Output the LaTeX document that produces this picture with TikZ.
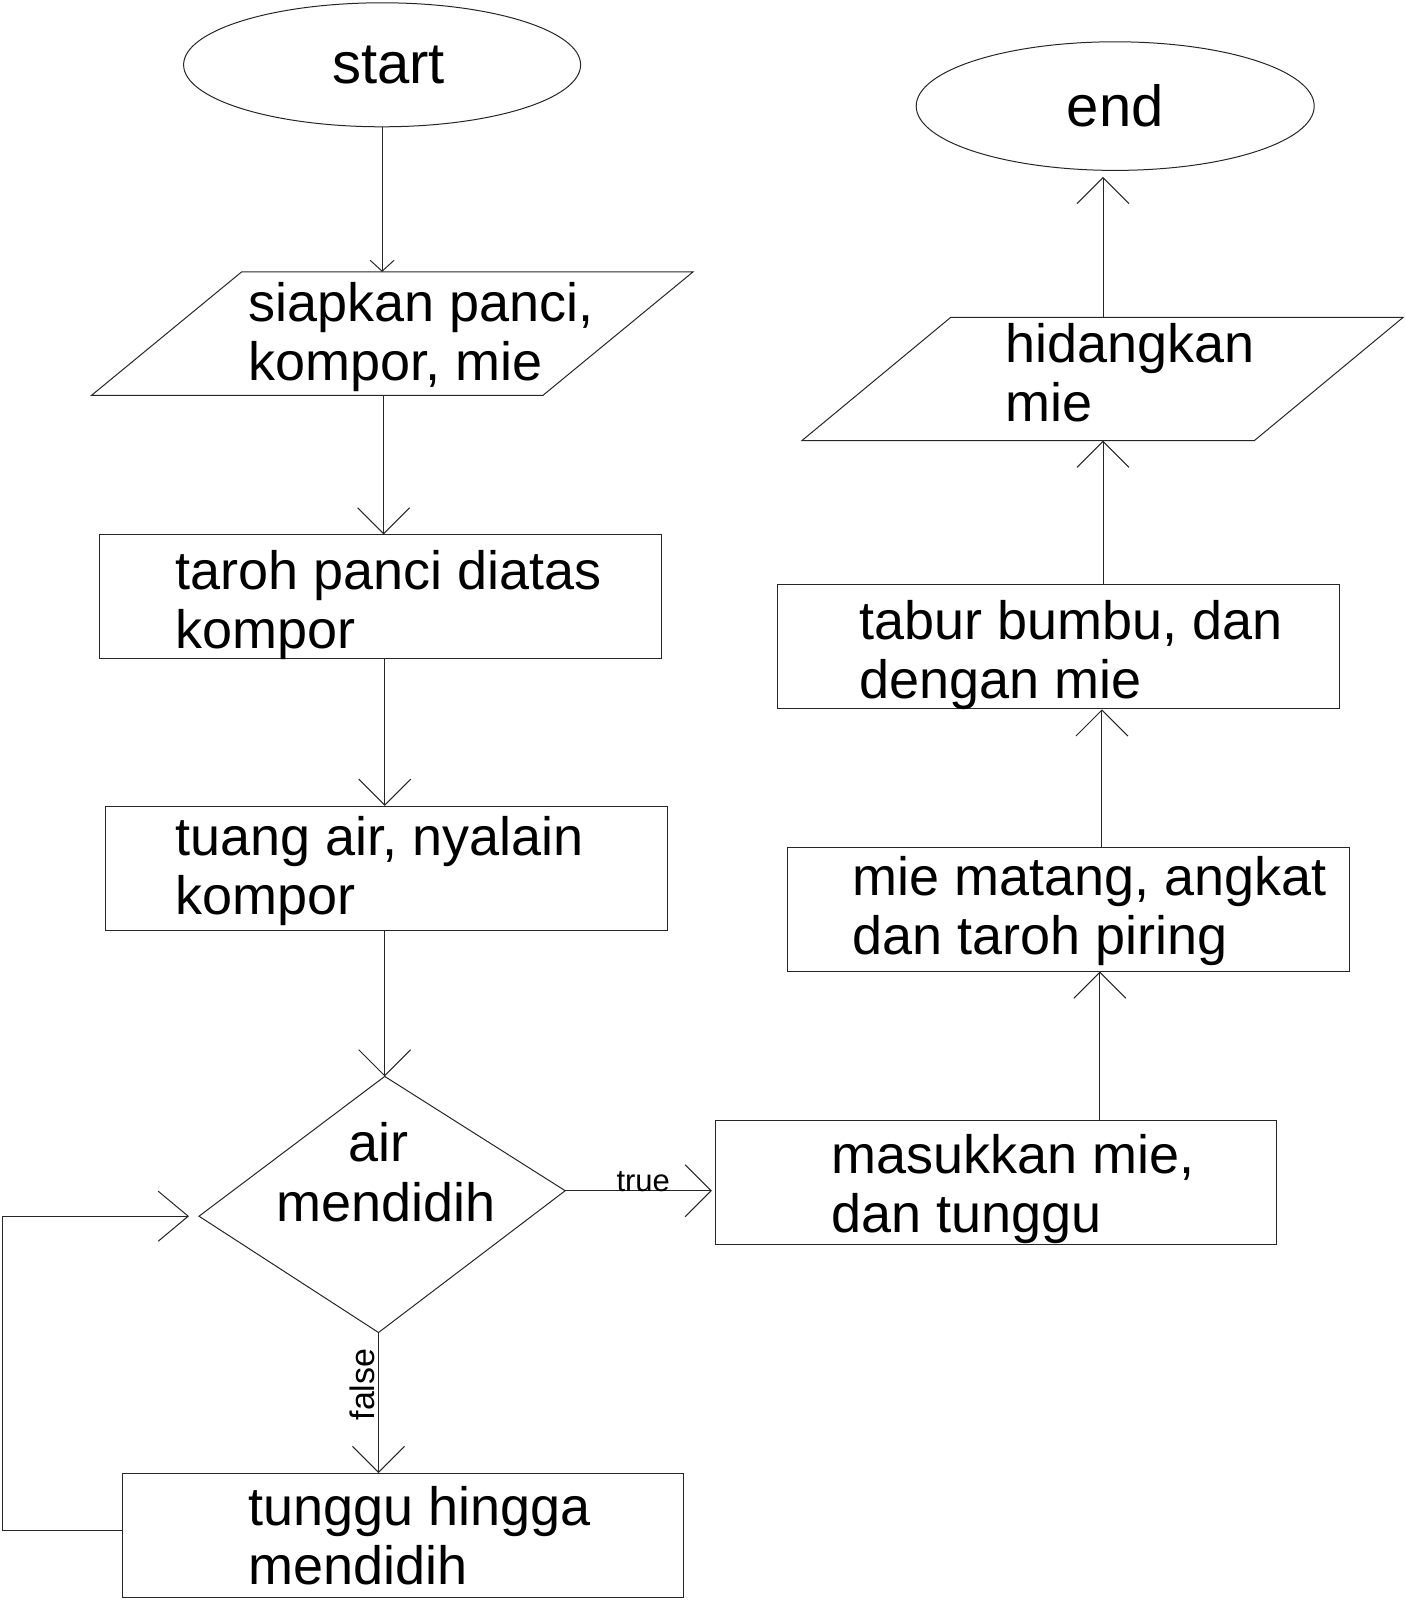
\documentclass[tikz,border=0pt]{standalone}
\usepackage{fontspec}
\setmainfont{Liberation Sans}
\usetikzlibrary{shapes.geometric,arrows.meta}
\tikzset{
  ln/.style={line width=1pt, draw=black!85},
  boxn/.style={ln, draw, rectangle, inner sep=0pt, minimum width=561pt, minimum height=124pt},
  pgram/.style={rectangle, inner sep=0pt, minimum width=601pt, minimum height=123pt},
  term/.style={ln, draw, ellipse, inner sep=0pt, minimum width=397pt, minimum height=124pt, font=\fontsize{58}{62}\selectfont},
  lbl/.style={font=\fontsize{54}{59}\selectfont, align=left, inner sep=0pt, anchor=base west},
  small/.style={font=\fontsize{31}{34}\selectfont, inner sep=0pt},
  arr/.style={ln, -{Straight Barb[length=26pt,width=52pt]}},
  arrS/.style={ln, -{Straight Barb[length=11pt,width=24pt]}},
  arrL/.style={ln, -{Straight Barb[length=30pt,width=50pt]}},
}
\begin{document}
\begin{tikzpicture}[x=1pt,y=-1pt]
\useasboundingbox (0,0) rectangle (1405,1600);
% terminals
\node[term] (start) at (382.1,64.8) {\hspace{13pt}start};
\node[term, minimum width=398pt, minimum height=128.6pt] (end) at (1115.2,106.1) {end};
% input parallelograms
\node[pgram] (siap) at (392.3,333.6) {};
\draw[ln] ([xshift=150pt]siap.north west) -- (siap.north east) -- ([xshift=-150pt]siap.south east) -- (siap.south west) -- cycle;
\node[lbl] (siapt) at (247.9,380.4) {siapkan panci,\\kompor, mie};
\node[pgram] (hid) at (1102.5,379) {};
\draw[ln] ([xshift=149pt]hid.north west) -- (hid.north east) -- ([xshift=-149pt]hid.south east) -- (hid.south west) -- cycle;
\node[lbl] (hidt) at (1005,421.2) {hidangkan\\mie};
% process boxes
\node[boxn, minimum width=562pt] (taroh) at (380.1,596.9) {};
\node[lbl] (taroht) at (175.5,648.7) {taroh panci diatas\\kompor};
\node[boxn, minimum width=562pt] (tuang) at (386.2,868.3) {};
\node[lbl] (tuangt) at (175.5,914) {tuang air, nyalain\\kompor};
\node[boxn] (masuk) at (995.8,1182) {};
\node[lbl] (masukt) at (831.5,1232.3) {masukkan mie,\\dan tunggu};
\node[boxn, minimum width=562pt] (mie) at (1068.8,909) {};
\node[lbl] (miet) at (852,954.8) {mie matang, angkat\\dan taroh piring};
\node[boxn, minimum width=562pt] (tabur) at (1058.6,646.9) {};
\node[lbl] (tabut) at (859.1,698.7) {tabur bumbu, dan\\dengan mie};
\node[boxn] (tung) at (403,1535.5) {};
\node[lbl] (tungt) at (247.9,1584.3) {tunggu hingga\\mendidih};
% decision
\coordinate (dT) at (384.7,1076.4);
\coordinate (dR) at (565.2,1190.7);
\coordinate (dB) at (378.5,1332.5);
\coordinate (dL) at (199,1216.2);
\draw[ln] (dT) -- (dR) -- (dB) -- (dL) -- cycle;
\node[lbl, align=center, anchor=base] (diat) at (378.5,1161) {air};
\node[lbl] (diat2) at (276.5,1221.3) {mendidih};
% connectors
\draw[arrS] (start.south) -- (start.south |- siap.north);
\draw[arr] ([xshift=-8.7pt]siap.south) -- ([xshift=-8.7pt]siap.south |- taroh.north);
\draw[arr] ([xshift=4.6pt]taroh.south) -- ([xshift=4.6pt]taroh.south |- tuang.north);
\draw[arr] ([xshift=-1.5pt]tuang.south) -- (dT);
\draw[arr, shorten >=3pt] (dR) -- (dR -| masuk.west);
\node[small, anchor=base west] (truel) at (616.3,1191) {true};
\draw[arr] (dB) -- (dB |- tung.north);
\node[small, font=\fontsize{34}{36}\selectfont, rotate=90, anchor=base] (falsel) at (374,1384.5) {false};
\draw[arrL, shorten >=10pt] ([yshift=5pt]tung.west) -- (2,1530.5) |- (dL);
\draw[arr] ([xshift=104.1pt]masuk.north) -- ([xshift=104.1pt]masuk.north |- mie.south);
\draw[arr] ([xshift=33.1pt]mie.north) -- ([xshift=33.1pt]mie.north |- tabur.south);
\draw[arr] ([xshift=44.4pt]tabur.north) -- ([xshift=44.4pt]tabur.north |- hid.south);
\draw[arr, shorten >=6pt] ([xshift=0.5pt]hid.north) -- ([xshift=0.5pt]hid.north |- end.south);
\end{tikzpicture}
\end{document}
